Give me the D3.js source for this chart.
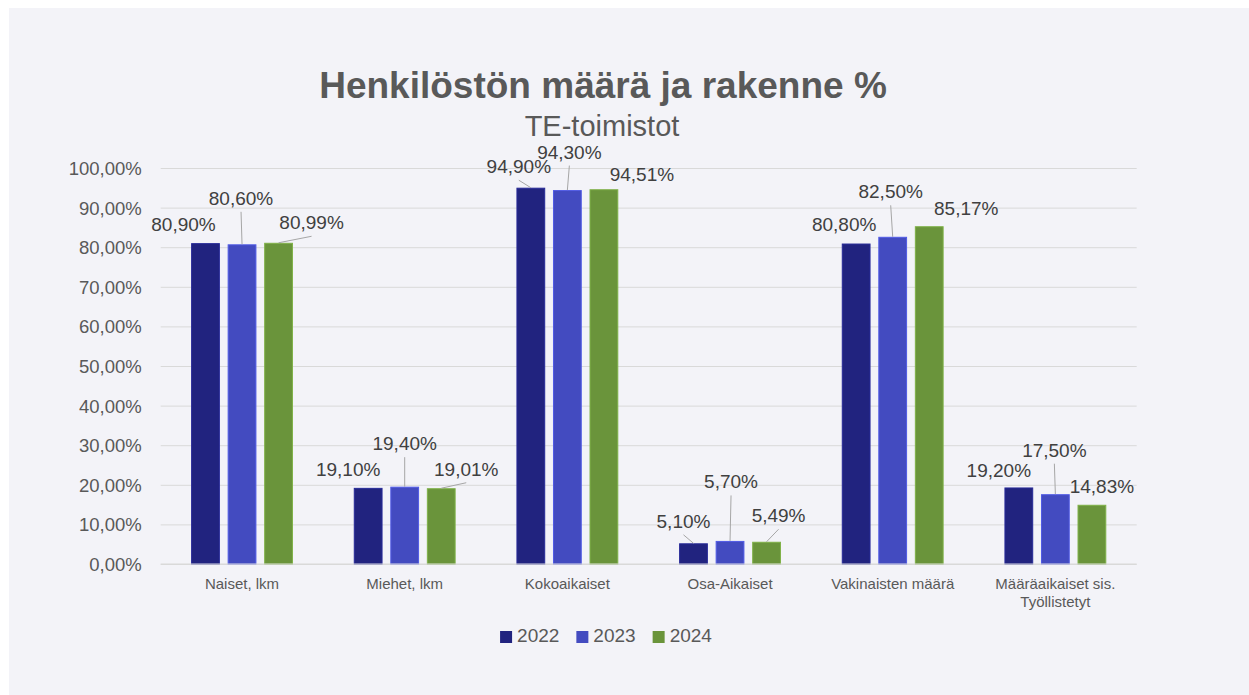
<!DOCTYPE html>
<html>
<head>
<meta charset="utf-8">
<script src="https://cdn.jsdelivr.net/npm/d3@7"></script>
<style>
  html, body { margin: 0; padding: 0; background: #ffffff; }
  svg { display: block; font-family: "Liberation Sans", Arial, sans-serif; }
</style>
</head>
<body>
<svg id="chart" width="1249" height="695"></svg>
<script>
// ---- data ----
const categories = ["Naiset, lkm", "Miehet, lkm", "Kokoaikaiset", "Osa-Aikaiset", "Vakinaisten määrä", "Määräaikaiset sis. Työllistetyt"];
const seriesNames = ["2022", "2023", "2024"];
const values2022 = [80.90, 19.10, 94.90, 5.10, 80.80, 19.20];
const values2023 = [80.60, 19.40, 94.30, 5.70, 82.50, 17.50];
const values2024 = [80.99, 19.01, 94.51, 5.49, 85.17, 14.83];
const yTicks = [0, 10, 20, 30, 40, 50, 60, 70, 80, 90, 100];
const titleText = "Henkilöstön määrä ja rakenne %";
const subtitleText = "TE-toimistot";

// ---- layout / style (not data) ----
const colors = ["#21237f", "#434bc0", "#6a943b"];
// label offsets [dx, dy, leader] relative to bar centre / bar top, per category per series
const labelLayout = [
  [[-22, -13, 0], [-1, -40, 1], [33, -14, 1]],
  [[-20, -12, 0], [0, -37, 1], [25, -13, 1]],
  [[-12, -15, 1], [2, -32, 1], [38, -9, 0]],
  [[-10, -16, 1], [1, -53, 1], [12, -20, 1]],
  [[-12, -13, 0], [-2, -39, 1], [37, -12, 0]],
  [[-20, -11, 0], [-1, -38, 1], [10, -12, 0]]
];

const seriesValues = [values2022, values2023, values2024];
const svg = d3.select("#chart");
const W = 1249, H = 695;
const plot = { left: 160.7, right: 1136.7, top: 168, bottom: 564 };

svg.append("rect").attr("x", 9).attr("y", 8).attr("width", W - 9).attr("height", H - 8).attr("fill", "#f3f3f8");

const locale = d3.formatLocale({ decimal: ",", thousands: " ", grouping: [3], currency: ["", "€"], percent: "%" });
const fmt = locale.format(".2%");

const x0 = d3.scaleBand().domain(categories).range([plot.left, plot.right]).paddingInner(0).paddingOuter(0);
const bw = x0.bandwidth();
const x1 = d3.scaleBand().domain(seriesNames).range([bw * 0.19, bw * 0.81]).paddingInner(0.24).paddingOuter(0);
const y = d3.scaleLinear().domain([0, 100]).range([plot.bottom, plot.top]);

// gridlines
const grid = svg.append("g").attr("transform", `translate(${plot.left},0)`)
  .call(d3.axisLeft(y).tickValues(yTicks).tickSize(-(plot.right - plot.left)).tickFormat(""));
grid.select(".domain").remove();
grid.selectAll("line").attr("stroke", "#d9d9d9").attr("stroke-width", 1);

// y axis labels
const yAxis = svg.append("g").attr("transform", `translate(${plot.left},0)`)
  .call(d3.axisLeft(y).tickValues(yTicks).tickSize(0).tickPadding(19).tickFormat(d => fmt(d / 100)));
yAxis.select(".domain").remove();
yAxis.selectAll("text").attr("fill", "#595959").style("font-size", "18.5px").attr("dy", "0.35em");

// bars
const groups = svg.append("g").selectAll("g").data(categories).join("g")
  .attr("transform", d => `translate(${x0(d)},0)`);
groups.selectAll("rect").data((c, i) => seriesNames.map((s, j) => ({ s, j, v: seriesValues[j][i] })))
  .join("rect")
  .attr("x", d => x1(d.s)).attr("width", x1.bandwidth())
  .attr("y", d => y(d.v)).attr("height", d => y(0) - y(d.v))
  .attr("fill", d => colors[d.j])
  .attr("stroke", d => d3.color(colors[d.j]).brighter(0.5))
  .attr("stroke-width", 1);

// x axis baseline
svg.append("line").attr("x1", plot.left).attr("x2", plot.right).attr("y1", y(0)).attr("y2", y(0))
  .attr("stroke", "#d9d9d9").attr("stroke-width", 1);

// data labels with leader lines
const labelG = svg.append("g");
categories.forEach((c, i) => {
  seriesNames.forEach((s, j) => {
    const v = seriesValues[j][i];
    const bx = x0(c) + x1(s) + x1.bandwidth() / 2;
    const by = y(v);
    const [dx, dy, leader] = labelLayout[i][j];
    const lx = bx + dx, ly = by + dy;
    if (leader) {
      labelG.append("line").attr("x1", lx).attr("y1", ly + 7).attr("x2", bx).attr("y2", by - 0.5)
        .attr("stroke", "#a6a6a6").attr("stroke-width", 1);
    }
    labelG.append("text").attr("x", lx).attr("y", ly).attr("text-anchor", "middle")
      .attr("fill", "#404040").style("font-size", "19px").text(fmt(v / 100));
  });
});

// category labels (wrapped)
const catG = svg.append("g");
categories.forEach(c => {
  const t = catG.append("text").attr("x", x0(c) + bw / 2).attr("y", 589).attr("text-anchor", "middle")
    .attr("fill", "#595959").style("font-size", "15px");
  const words = c.split(" ");
  let line = [];
  let tspan = t.append("tspan").attr("x", x0(c) + bw / 2).attr("dy", 0);
  words.forEach(w => {
    line.push(w);
    tspan.text(line.join(" "));
    if (tspan.node().getComputedTextLength() > bw * 0.85 && line.length > 1) {
      line.pop();
      tspan.text(line.join(" "));
      line = [w];
      tspan = t.append("tspan").attr("x", x0(c) + bw / 2).attr("dy", 18).text(w);
    }
  });
});

// title
svg.append("text").attr("x", 603).attr("y", 98).attr("text-anchor", "middle")
  .attr("fill", "#595959").style("font-size", "37px").style("font-weight", "bold").text(titleText);
svg.append("text").attr("x", 602).attr("y", 136).attr("text-anchor", "middle")
  .attr("fill", "#595959").style("font-size", "29px").text(subtitleText);

// legend
const legend = svg.append("g");
let lxPos = 0;
seriesNames.forEach((s, j) => {
  const g = legend.append("g").attr("transform", `translate(${lxPos},0)`);
  g.append("rect").attr("x", 0).attr("y", -11).attr("width", 12).attr("height", 12).attr("fill", colors[j]);
  const t = g.append("text").attr("x", 17).attr("y", 0).attr("fill", "#595959").style("font-size", "19px").text(s);
  const w = 17 + t.node().getComputedTextLength();
  lxPos += w + 17;
});
const legendWidth = lxPos - 17;
legend.attr("transform", `translate(${606 - legendWidth / 2},642)`);
</script>
</body>
</html>
